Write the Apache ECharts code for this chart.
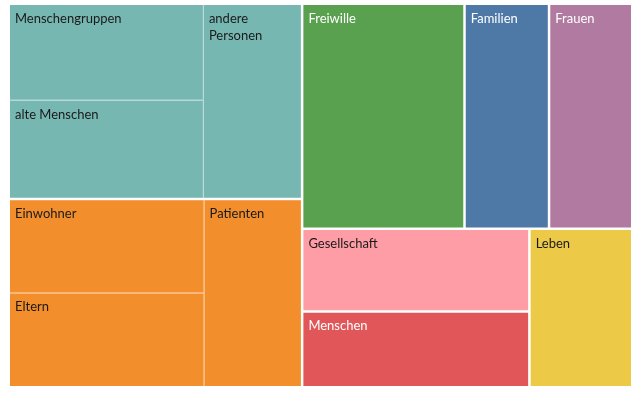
<!DOCTYPE html>
<html>
<head>
<meta charset="utf-8">
<script src="https://cdn.jsdelivr.net/npm/echarts@6/dist/echarts.min.js"></script>
<style>
  html, body { margin: 0; padding: 0; background: #fff; }
  #chart { width: 640px; height: 395px; }
</style>
</head>
<body>
<div id="chart"></div>
<script>
// grouped words (two parents with three children each)
const tealNames = ['Menschengruppen', 'alte Menschen', 'andere Personen'];
const tealValues = [18.7, 19.1, 19.1];
const orangeNames = ['Einwohner', 'Eltern', 'Patienten'];
const orangeValues = [18.3, 18.3, 18.3];

// single words
const singleNames = ['Freiwille', 'Familien', 'Frauen', 'Gesellschaft', 'Menschen', 'Leben'];
const singleValues = [36.3, 18.9, 18.6, 18.7, 17.1, 16.2];

// styling
const groupColors = ['#76b7b2', '#f28e2b'];
const groupGapColors = ['#bcdcd9', '#f8c48f'];
const singleColors = ['#59a14f', '#4e79a7', '#b07aa1', '#ff9da7', '#e15759', '#edc948'];
const singleLabelColors = ['#fff', '#fff', '#fff', '#1a1a1a', '#fff', '#1a1a1a'];

const makeGroup = (names, values, i) => ({
    name: '',
    itemStyle: { color: groupColors[i], borderColor: groupGapColors[i] },
    children: names.map((n, j) => ({
        name: n,
        value: values[j],
        itemStyle: { color: groupColors[i] },
        label: { color: '#1a1a1a' }
    }))
});

const data = [
    makeGroup(tealNames, tealValues, 0),
    makeGroup(orangeNames, orangeValues, 1),
    ...singleNames.map((n, i) => ({
        name: n,
        value: singleValues[i],
        itemStyle: { color: singleColors[i] },
        label: { color: singleLabelColors[i] }
    }))
];

const chart = echarts.init(document.getElementById('chart'), null, { renderer: 'canvas' });
chart.setOption({
    backgroundColor: '#fff',
    animation: false,
    series: [{
        type: 'treemap',
        left: 10,
        top: 5,
        width: 621,
        height: 381,
        sort: false,
        roam: false,
        nodeClick: false,
        breadcrumb: { show: false },
        label: {
            show: true,
            position: 'insideTopLeft',
            fontFamily: 'Lato',
            fontSize: 13,
            lineHeight: 17,
            overflow: 'break'
        },
        upperLabel: { show: false },
        levels: [
            { itemStyle: { borderWidth: 0, gapWidth: 2.5 } },
            { itemStyle: { borderWidth: 0, gapWidth: 1 } },
            { itemStyle: { borderWidth: 0, gapWidth: 0 } }
        ],
        data: data
    }]
});
</script>
</body>
</html>
